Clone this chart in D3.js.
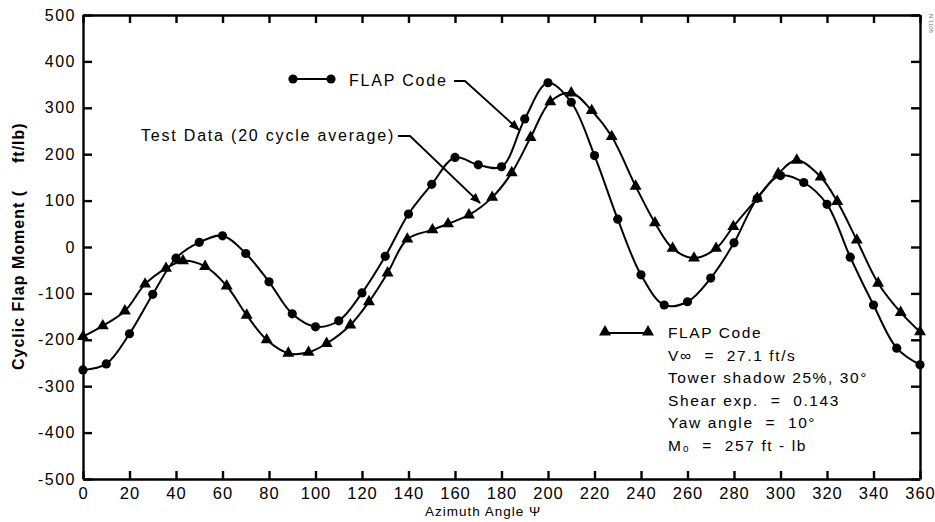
<!DOCTYPE html>
<html>
<head>
<meta charset="utf-8">
<script src="https://cdn.jsdelivr.net/npm/d3@7"></script>
<style>
  body { margin: 0; background: #fff; }
  svg { display: block; font-family: "Liberation Sans", Arial, sans-serif; }
  .axis path, .axis line { stroke: #000; stroke-width: 2.4; }
  .axis text { font-size: 16px; letter-spacing: 1.5px; fill: #000; }
  .note { white-space: pre; }
</style>
</head>
<body>
<div id="chart"></div>
<script>
// azimuth (deg) of the circle series, one point every 10 deg
var circleAz = [0, 10, 20, 30, 40, 50, 60, 70, 80, 90, 100, 110, 120, 130, 140, 150, 160, 170, 180,
                190, 200, 210, 220, 230, 240, 250, 260, 270, 280, 290, 300, 310, 320, 330, 340, 350, 360];
var circleVal = [-265, -252, -187, -102, -24, 10, 24, -14, -75, -144, -172, -159, -99, -20, 71, 135, 193, 177, 173,
                 276, 354, 312, 197, 60, -60, -125, -118, -67, 9, 105, 154, 139, 92, -22, -125, -218, -254];

// triangle series, points
var triAz = [0, 8.5, 18, 26.7, 35.7, 43, 52.5, 61.8, 70.4, 79, 88.3, 97, 104.8, 115, 123, 131, 139.5,
             150.3, 157, 166, 176, 184.4, 192.5, 201, 210, 218.8, 227.4, 237.7, 246, 253.6, 262.8, 272.3,
             279.7, 290, 299, 307, 317.3, 324.4, 332.8, 342, 351.7, 360];
var triVal = [-193, -170, -138, -80, -46, -30, -42, -84, -147, -200, -229, -227, -208, -168, -118, -56, 17,
              37, 50, 69, 107, 160, 236, 313, 332, 294, 238, 131, 52, -3, -24, -3,
              44, 105, 158, 187, 151, 98, 15, -78, -141, -183];

var xTicks = [0, 20, 40, 60, 80, 100, 120, 140, 160, 180, 200, 220, 240, 260, 280, 300, 320, 340, 360];
var yTicks = [-500, -400, -300, -200, -100, 0, 100, 200, 300, 400, 500];

var legendNotes = ["FLAP Code", "V\u221E  =  27.1 ft/s", "Tower shadow 25%, 30\u00B0",
                   "Shear exp.  =  0.143", "Yaw angle  =  10\u00B0", "M\u2080  =  257 ft - lb"];

var W = 935, H = 522;
var plotL = 83, plotR = 920, plotT = 15, plotB = 479;

var svg = d3.select("#chart").append("svg").attr("width", W).attr("height", H);

var x = d3.scaleLinear().domain([0, 360]).range([plotL, plotR]);
var y = d3.scaleLinear().domain([-500, 500]).range([plotB, plotT]);

// axes, ticks all point inward
svg.append("g").attr("class", "axis").attr("transform", "translate(" + plotL + ",0)")
    .call(d3.axisLeft(y).tickValues(yTicks).tickSizeInner(-9).tickSizeOuter(0).tickPadding(7)
        .tickFormat(function (d) { return String(d); }));
svg.append("g").attr("class", "axis").attr("transform", "translate(" + plotR + ",0)")
    .call(d3.axisRight(y).tickValues(yTicks).tickSizeInner(-9).tickSizeOuter(0).tickFormat(""));
svg.append("g").attr("class", "axis").attr("transform", "translate(0," + plotT + ")")
    .call(d3.axisTop(x).tickValues(xTicks).tickSizeInner(-8).tickSizeOuter(0).tickFormat(""));
var xb = svg.append("g").attr("class", "axis").attr("transform", "translate(0," + plotB + ")")
    .call(d3.axisBottom(x).tickValues(xTicks).tickSizeInner(-8).tickSizeOuter(0).tickPadding(4)
        .tickFormat(function (d) { return String(d); }));
xb.selectAll("text").style("font-size", "16.5px").style("letter-spacing", "1px").attr("dy", "0.95em");

// axis titles
svg.append("text")
    .attr("transform", "translate(24,370) rotate(-90)")
    .style("font-size", "16px").style("font-weight", "bold").style("letter-spacing", "1px")
    .text("Cyclic Flap Moment (");
svg.append("text")
    .attr("transform", "translate(24,163) rotate(-90)")
    .style("font-size", "16px").style("font-weight", "bold").style("letter-spacing", "1px")
    .text("ft/lb)");
svg.append("text")
    .attr("x", 425).attr("y", 516)
    .style("font-size", "13.5px").style("letter-spacing", "1px")
    .text("Azimuth Angle \u03A8");

// curves
var line = d3.line()
    .x(function (d) { return x(d[0]); })
    .y(function (d) { return y(d[1]); })
    .curve(d3.curveCatmullRom.alpha(0.5));

var circleData = circleAz.map(function (a, i) { return [a, circleVal[i]]; });
var triData = triAz.map(function (a, i) { return [a, triVal[i]]; });

[circleData, triData].forEach(function (data) {
    svg.append("path").datum(data).attr("d", line)
        .attr("fill", "none").attr("stroke", "#000").attr("stroke-width", 2);
});

svg.selectAll(".dot").data(circleData).enter().append("circle")
    .attr("cx", function (d) { return x(d[0]); })
    .attr("cy", function (d) { return y(d[1]); })
    .attr("r", 4.6).attr("fill", "#000");

var tri = d3.symbol().type(d3.symbolTriangle).size(62);
svg.selectAll(".tri").data(triData).enter().append("path")
    .attr("transform", function (d) { return "translate(" + x(d[0]) + "," + y(d[1]) + ")"; })
    .attr("d", tri).attr("fill", "#000");

// top annotations
var annoFont = function (sel) {
    sel.style("font-size", "16px").style("letter-spacing", "1.8px").attr("fill", "#000");
};
svg.append("line").attr("x1", 293).attr("x2", 331).attr("y1", 79).attr("y2", 79)
    .attr("stroke", "#000").attr("stroke-width", 2);
[293, 331].forEach(function (cx) {
    svg.append("circle").attr("cx", cx).attr("cy", 79).attr("r", 4.6).attr("fill", "#000");
});
svg.append("text").attr("x", 349).attr("y", 86).call(annoFont).text("FLAP Code");
svg.append("text").attr("x", 141).attr("y", 141).call(annoFont).text("Test Data (20 cycle average)");

svg.append("defs").append("marker")
    .attr("id", "arrow").attr("viewBox", "0 0 10 10").attr("refX", 9).attr("refY", 5)
    .attr("markerWidth", 11).attr("markerHeight", 11).attr("markerUnits", "userSpaceOnUse")
    .attr("orient", "auto")
    .append("path").attr("d", "M0,1 L10,5 L0,9 Z").attr("fill", "#000");

var leader = d3.line();
svg.append("path").attr("d", leader([[454, 81], [465, 81], [519, 130]]))
    .attr("fill", "none").attr("stroke", "#000").attr("stroke-width", 1.8)
    .attr("marker-end", "url(#arrow)");
svg.append("path").attr("d", leader([[398, 136], [410, 136], [480, 203]]))
    .attr("fill", "none").attr("stroke", "#000").attr("stroke-width", 1.8)
    .attr("marker-end", "url(#arrow)");

// lower legend with run conditions
svg.append("line").attr("x1", 605).attr("x2", 648).attr("y1", 333).attr("y2", 333)
    .attr("stroke", "#000").attr("stroke-width", 2);
[605, 648].forEach(function (tx) {
    svg.append("path").attr("transform", "translate(" + tx + ",332)").attr("d", tri).attr("fill", "#000");
});
svg.selectAll(".note").data(legendNotes).enter().append("text")
    .attr("class", "note")
    .attr("x", 668)
    .attr("y", function (d, i) { return 338 + i * 22.6; })
    .style("font-size", "15.5px").style("letter-spacing", "1.6px")
    .text(function (d) { return d; });

// scan stamp in the top right corner
svg.append("text")
    .attr("transform", "translate(929,14) rotate(90)")
    .style("font-size", "6px").attr("fill", "#777")
    .text("N 1108");
</script>
</body>
</html>
